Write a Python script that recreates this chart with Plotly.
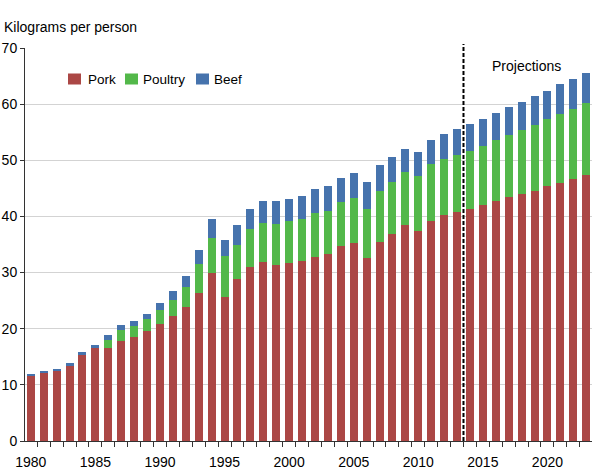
import plotly.graph_objects as go

# years on the x axis (1980-2013 history, 2014-2023 projections)
years = list(range(1980, 2024))

# kilograms per person
pork = [11.7, 12.2, 12.4, 13.4, 15.4, 16.5, 16.5, 17.9, 18.5, 19.6,
        20.8, 22.2, 23.8, 26.4, 29.9, 25.6, 28.9, 31.0, 31.8, 31.3,
        31.7, 32.1, 32.8, 33.3, 34.7, 35.3, 32.6, 35.4, 36.8, 38.4,
        37.4, 39.2, 40.2, 40.8, 41.3, 42.0, 42.8, 43.5, 44.0, 44.6,
        45.4, 46.0, 46.7, 47.4]
poultry = [0.0, 0.0, 0.0, 0.0, 0.0, 0.0, 1.5, 1.8, 2.0, 2.2,
           2.6, 3.0, 3.7, 5.1, 6.3, 7.4, 6.0, 6.7, 7.1, 7.4,
           7.5, 7.5, 7.8, 7.7, 7.85, 7.9, 8.7, 9.2, 9.3, 9.5,
           9.8, 10.2, 10.0, 10.1, 10.4, 10.6, 10.8, 11.0, 11.4, 11.6,
           11.9, 12.3, 12.5, 12.8]
beef = [0.3, 0.35, 0.4, 0.5, 0.4, 0.6, 0.8, 0.9, 0.8, 0.9,
        1.2, 1.5, 1.9, 2.5, 3.3, 2.8, 3.5, 3.7, 3.9, 4.1,
        3.9, 4.1, 4.2, 4.4, 4.35, 4.5, 4.8, 4.6, 4.4, 4.2,
        4.2, 4.2, 4.4, 4.6, 4.7, 4.7, 4.85, 5.0, 5.0, 5.2,
        5.1, 5.3, 5.3, 5.4]

series_names = ["Pork", "Poultry", "Beef"]
colors = ["#ab4745", "#53b84a", "#4673ad"]
label_years = [1980, 1985, 1990, 1995, 2000, 2005, 2010, 2015, 2020]
projection_start = 2013.5

font = "Liberation Sans, Arial, sans-serif"
W, H = 592, 470
L, R, T, B = 25, 0, 48, 29
pw, ph = W - L - R, H - T - B


def px_x(x):
    return (x - L) / pw


def px_y(y):
    return 1 - (y - T) / ph


fig = go.Figure()
for name, vals, col in zip(series_names, [pork, poultry, beef], colors):
    fig.add_trace(go.Bar(x=years, y=vals, name=name, marker_color=col,
                         marker_line_width=0, showlegend=False))

# dashed line marking where projections begin
fig.add_shape(type="line", xref="x", yref="paper", x0=projection_start, x1=projection_start,
              y0=0, y1=px_y(44), line=dict(color="black", width=2, dash="4px,2px"))
fig.add_annotation(x=2018.4, y=66.8, text="Projections", showarrow=False,
                   font=dict(size=14, color="black", family=font))
fig.add_annotation(xref="paper", yref="paper", x=px_x(2), y=px_y(27),
                   xanchor="left", yanchor="middle", text="Kilograms per person",
                   showarrow=False, font=dict(size=14, color="black", family=font))

# legend drawn by hand: swatch + label
sw_x = [68, 125, 196]
tx_x = [86, 141, 212]
for name, col, sx, tx in zip(series_names, colors, sw_x, tx_x):
    fig.add_shape(type="rect", xref="paper", yref="paper",
                  x0=px_x(sx), x1=px_x(sx + 13), y0=px_y(84.5), y1=px_y(73.5),
                  fillcolor=col, line_width=0)
    fig.add_annotation(xref="paper", yref="paper", x=px_x(tx), y=px_y(79),
                       xanchor="left", yanchor="middle", text=name, showarrow=False,
                       font=dict(size=13.5, color="black", family=font))

fig.update_layout(
    width=W, height=H,
    margin=dict(l=L, r=R, t=T, b=B),
    barmode="stack", bargap=0.38,
    plot_bgcolor="white", paper_bgcolor="white",
    font=dict(family=font, size=14, color="black"),
    showlegend=False,
)
fig.update_xaxes(range=[1979.55, 2023.45], tickvals=label_years,
                 ticks="outside", ticklen=8, tickcolor="rgba(0,0,0,0)",
                 showgrid=False, showline=True, linecolor="#333", linewidth=1,
                 minor=dict(tick0=1979.5, dtick=1, ticks="outside", ticklen=5,
                            tickcolor="#333", showgrid=False),
                 tickfont=dict(size=14), automargin=False)
fig.update_yaxes(range=[0, 70], dtick=10, ticks="outside", ticklen=4, tickcolor="#333",
                 showgrid=True, gridcolor="#d3d3d3", gridwidth=1,
                 showline=True, linecolor="#333", linewidth=1,
                 zeroline=False, tickfont=dict(size=14), automargin=False)

# page has a default body margin; drop it so the figure fills the window
fig.write_html("out.html", config={"displayModeBar": False},
               post_script="document.body.style.margin='0';")
